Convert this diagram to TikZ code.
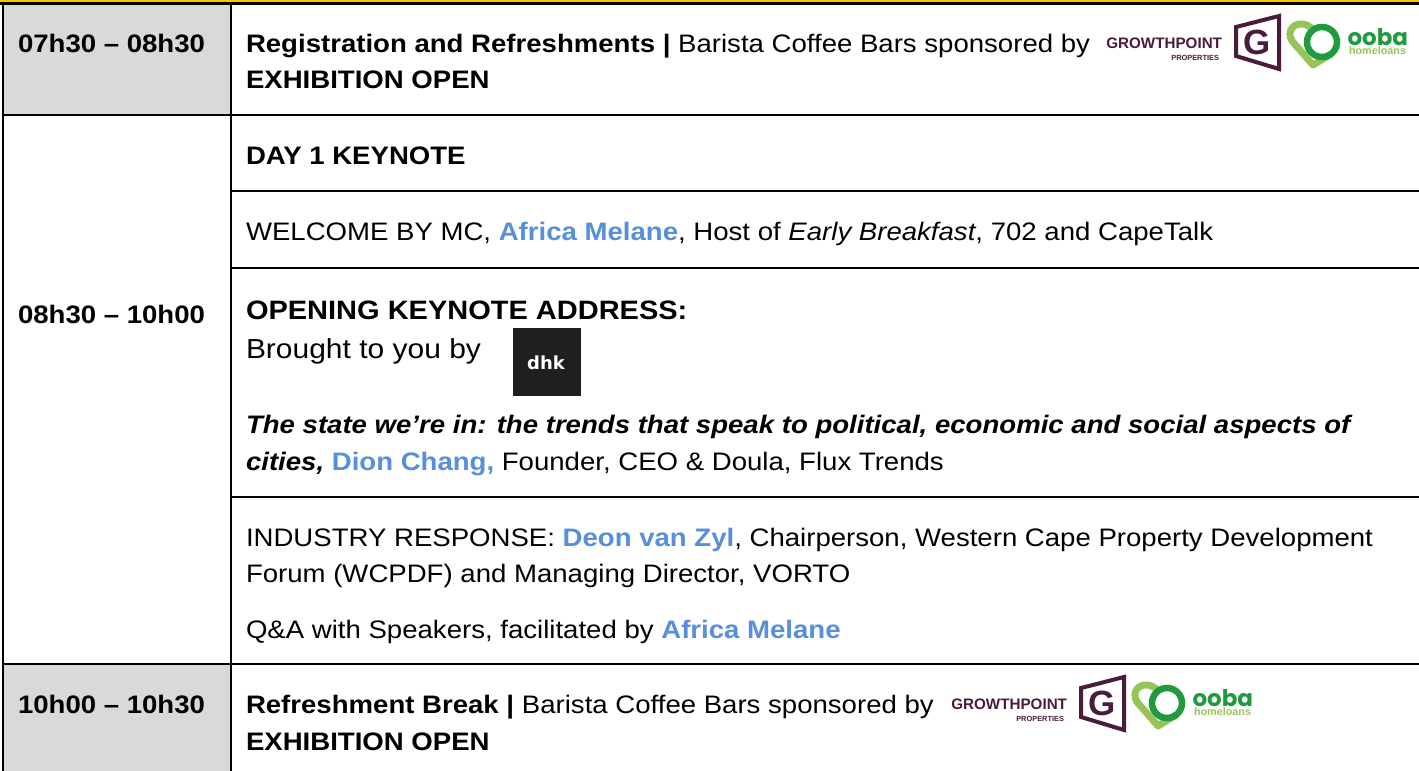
\documentclass[tikz,border=0pt]{standalone}
\usepackage{fontspec}
\setmainfont[FakeStretch=1.09]{Liberation Sans}
\newfontfamily\gpfont{Liberation Sans}
\newfontfamily\oofont{Poppins}
\newfontfamily\dhkfont{DejaVu Sans}
\definecolor{spk}{HTML}{568FDB}
\definecolor{amber}{HTML}{FFC000}
\definecolor{plum}{HTML}{4A1B3C}
\definecolor{lime}{HTML}{97C459}
\definecolor{ringg}{HTML}{1F9A3E}
\definecolor{cellg}{HTML}{D9D9D9}
\newcommand{\spkr}[1]{\textbf{\textcolor{spk}{#1}}}
\newcommand{\growlogo}[1]{%
\begin{scope}[shift={(#1)}]
\node[logotxt,font=\gpfont\fontsize{15.2}{15}\bfseries\selectfont,text=plum,anchor=base east] (gp) at (1222,48) {GROWTHPOINT};
\node[logotxt,font=\gpfont\fontsize{7.4}{8}\bfseries\selectfont,text=plum,anchor=base east] (pr) at (1219,60) {PROPERTIES};
\draw[plum,line width=4,fill=white,line join=miter] (1236,27) -- (1279,16) -- (1279,69) -- (1236,56) -- cycle;
\node[logotxt,font=\gpfont\fontsize{35}{36}\bfseries\selectfont,text=plum,anchor=center] (gg) at (1257.5,42) {G};
\draw[lime,line width=7,line join=round] (1331,54) -- (1313,65) -- (1292,41) .. controls (1286,31) and (1294,23) .. (1302,24) .. controls (1306,24) and (1309,26) .. (1314,30);
\draw[ringg,line width=6.5] (1322,42) circle (15);
\node[logotxt,font=\oofont\fontsize{23}{24}\bfseries\selectfont,text=ringg,anchor=base west] (oo) at (1347.5,45) {ooba};
\node[logotxt,font=\gpfont\fontsize{10.8}{11}\bfseries\selectfont,text=lime,anchor=base west] (hl) at (1349,54.5) {homeloans};
\end{scope}}
\tikzset{
 x=1pt,y=-1pt,
 logotxt/.style={inner sep=0pt,outer sep=0pt},
 txt/.style={anchor=base west,inner sep=0pt,outer sep=0pt,font=\fontsize{25.3}{30}\selectfont},
 big/.style={anchor=base west,inner sep=0pt,outer sep=0pt,font=\fontsize{27.5}{30}\selectfont},
 bighead/.style={anchor=base west,inner sep=0pt,outer sep=0pt,font=\fontsize{26.6}{30}\selectfont},
 rule/.style={line width=2.2,black},
}
\begin{document}
\begin{tikzpicture}
\useasboundingbox (0,0) rectangle (1419,771);
\fill[white] (0,0) rectangle (1419,771);
\fill[cellg] (3,3) rectangle (231,115);
\fill[cellg] (3,664) rectangle (231,771);
\fill[amber] (0,0) rectangle (1419,3);
\draw[rule] (0,3.5) -- (1419,3.5);
\draw[rule] (3,3) -- (3,771);
\draw[rule] (231,3) -- (231,771);
\draw[rule] (3,115) -- (1419,115);
\draw[rule] (231,191) -- (1419,191);
\draw[rule] (231,268) -- (1419,268);
\draw[rule] (231,497) -- (1419,497);
\draw[rule] (3,664) -- (1419,664);

\node[txt] (t1) at (18,52) {\textbf{07h30 – 08h30}};
\node[txt] (t2) at (18,323) {\textbf{08h30 – 10h00}};
\node[txt] (t3) at (18,713) {\textbf{10h00 – 10h30}};

\node[txt] (a1) at (246,52) {\textbf{Registration and Refreshments |} Barista Coffee Bars sponsored by};
\node[txt] (a2) at (246,88) {\textbf{EXHIBITION OPEN}};
\node[txt] (b1) at (246,164) {\textbf{DAY 1 KEYNOTE}};
\node[txt] (b2) at (246,240) {WELCOME BY MC, \spkr{Africa Melane}, Host of \textit{Early Breakfast}, 702 and CapeTalk};
\node[bighead] (c1) at (246,319) {\textbf{OPENING KEYNOTE ADDRESS:}};
\node[big] (c2) at (246,358) {Brought to you by};
\fill[black!88] (513,328) rectangle (581,396);
\node[logotxt,font=\dhkfont\fontsize{18}{19}\bfseries\selectfont,text=white,anchor=base] (dhk) at (546,369) {dhk};
\node[txt] (c3) at (246,433) {\textbf{\textit{The state we’re in: the trends that speak to political, economic and social aspects of}}};
\node[txt] (c4) at (246,470) {\textbf{\textit{cities,}} \spkr{Dion Chang,} Founder, CEO \& Doula, Flux Trends};
\node[txt] (d1) at (246,546) {INDUSTRY RESPONSE: \spkr{Deon van Zyl}, Chairperson, Western Cape Property Development};
\node[txt] (d2) at (246,582) {Forum (WCPDF) and Managing Director, VORTO};
\node[txt] (d3) at (246,638) {Q\&A with Speakers, facilitated by \spkr{Africa Melane}};
\node[txt] (e1) at (246,713) {\textbf{Refreshment Break |} Barista Coffee Bars sponsored by};
\node[txt] (e2) at (246,750) {\textbf{EXHIBITION OPEN}};
\growlogo{0,0}
\growlogo{-155,661}
\end{tikzpicture}
\end{document}
